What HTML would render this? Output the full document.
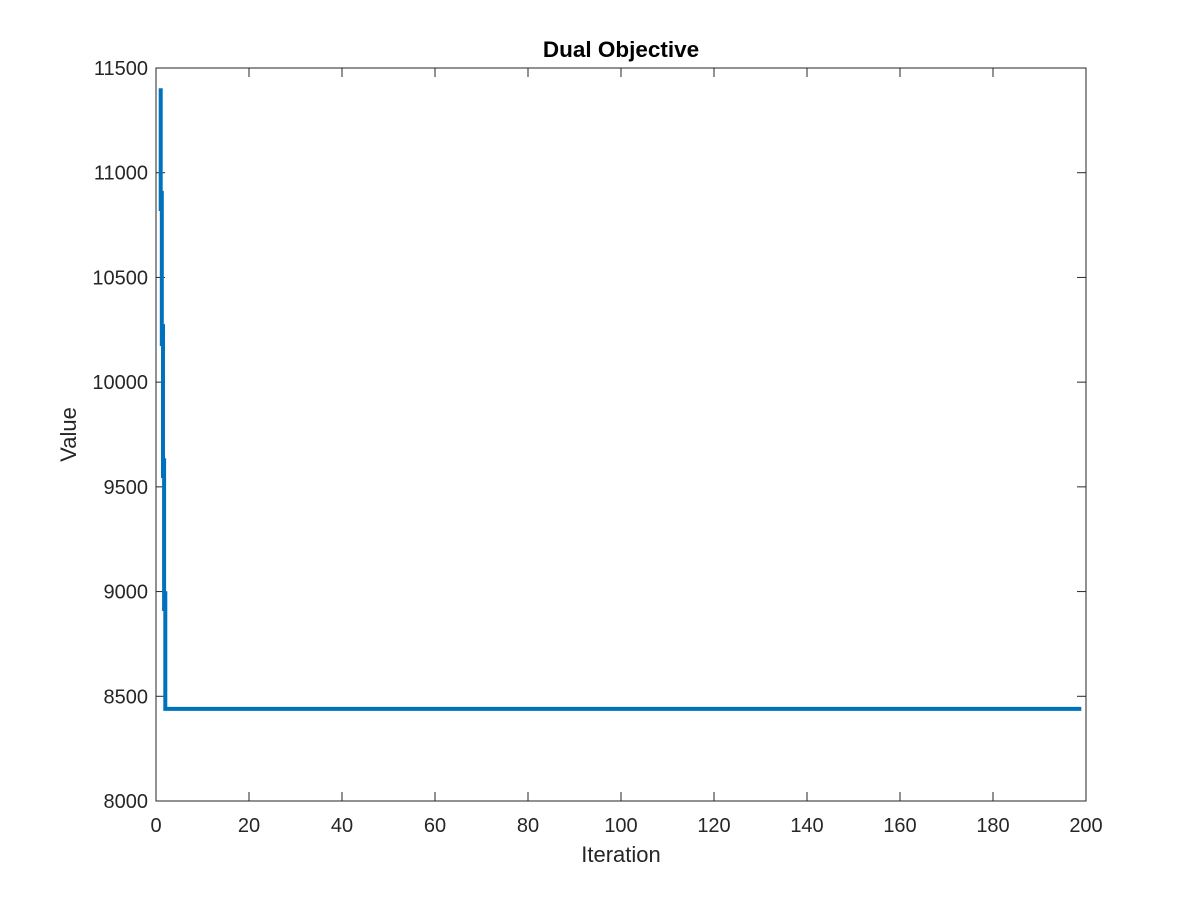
<!DOCTYPE html>
<html><head><meta charset="utf-8"><style>
body{margin:0;background:#fff;}
svg text{font-family:"Liberation Sans",Arial,sans-serif;fill:#262626;}
</style></head><body>
<svg width="1200" height="900">
<rect width="1200" height="900" fill="#fff"/>
<g id="plot"></g>
</svg>
<script>
const xs=[1,1,1.25,1.25,1.5,1.5,1.75,1.75,2,2,199];
const vals=[11403,10817,10913,10172,10277,9542,9637,8907,9002,8440,8440];
const xTicks=[0,20,40,60,80,100,120,140,160,180,200];
const yTicks=[8000,8500,9000,9500,10000,10500,11000,11500];
const L=156,R=1086,T=68,B=801;
const sx=v=>L+(v-0)/(200-0)*(R-L);
const sy=v=>B-(v-8000)/(11500-8000)*(B-T);
const ns="http://www.w3.org/2000/svg";
const g=document.getElementById('plot');
function mk(t,a){const e=document.createElementNS(ns,t);for(const k in a)e.setAttribute(k,a[k]);g.appendChild(e);return e;}
let box=mk('rect',{x:L,y:T,width:R-L,height:B-T,fill:'none',stroke:'#262626','stroke-width':1});


xTicks.forEach(t=>{const x=sx(t);
 mk('line',{x1:x,x2:x,y1:B,y2:B-9,stroke:'#262626'});
 mk('line',{x1:x,x2:x,y1:T,y2:T+9,stroke:'#262626'});
 const tx=mk('text',{x:x,y:B+31,'font-size':20,'text-anchor':'middle'});tx.textContent=t;
 
 
});
yTicks.forEach(t=>{const y=sy(t);
 mk('line',{x1:L,x2:L+9,y1:y,y2:y,stroke:'#262626'});
 mk('line',{x1:R,x2:R-9,y1:y,y2:y,stroke:'#262626'});
 const tx=mk('text',{x:L-8,y:y+7,'font-size':20,'text-anchor':'end'});tx.textContent=t;
 
 
});
const pts=xs.map((x,i)=>sx(x).toFixed(1)+','+sy(vals[i]).toFixed(1)).join(' ');
const pl=mk('polyline',{points:pts,fill:'none',stroke:'#0072BD','stroke-width':4,'stroke-linejoin':'miter'});


const ti=mk('text',{x:(L+R)/2,y:57,'font-size':22.5,'font-weight':'bold','text-anchor':'middle',style:'fill:#000'});ti.textContent='Dual Objective';


const xl=mk('text',{x:(L+R)/2,y:862,'font-size':22,'text-anchor':'middle'});xl.textContent='Iteration';


const yl=mk('text',{x:0,y:0,'font-size':22,'text-anchor':'middle',transform:'translate(76,'+((T+B)/2)+') rotate(-90)'});yl.textContent='Value';


</script>
</body></html>
